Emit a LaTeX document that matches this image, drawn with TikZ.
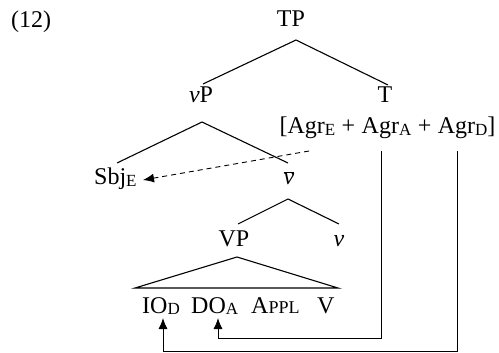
\documentclass[tikz,border=0pt]{standalone}
\usepackage{fontspec}
\setmainfont{Liberation Serif}
\usetikzlibrary{arrows.meta}
\newcommand\subsc[1]{\raisebox{-0.12ex}{\fontsize{17}{17}\selectfont #1}}
\newcommand\smcap[1]{{\fontsize{18}{18}\selectfont #1}}
\begin{document}
\begin{tikzpicture}[x=1pt,y=-1pt,font=\fontsize{24}{28}\selectfont,
  lab/.style={inner sep=0pt,anchor=base},
  br/.style={line width=1.1pt},
  link/.style={line width=0.9pt},
  tip/.style={-{Latex[length=11pt,width=9pt]}},
]
\useasboundingbox (0,0) rectangle (499,353);
% labels
\node[lab,anchor=base west] (ex) at (11,28) {(12)};
\node[lab] (TP) at (291,27) {TP};
\node[lab] (vP) at (201,103) {\textit{v}P};
\node[lab] (T) at (385,103) {T};
\node[lab] (agr) at (387.5,134) {[Agr\subsc{E}\hspace{6.5pt}+\hspace{6.5pt}Agr\subsc{A}\hspace{6.5pt}+\hspace{6.5pt}Agr\subsc{D}]};
\node[lab,anchor=base west] (sbj) at (94,185) {Sbj\subsc{E}};
\node[lab] (vbar) at (289,185) {$\overline{\hbox{\itshape v}}$};
\node[lab] (VP) at (234,247) {VP};
\node[lab] (v) at (339,247) {\textit{v}};
\node[lab,anchor=base west] (IO) at (142,313) {IO\subsc{D}};
\node[lab,anchor=base west] (DO) at (191,313) {DO\subsc{A}};
\node[lab,anchor=base west] (appl) at (251,313) {A\smcap{PPL}};
\node[lab,anchor=base west] (V) at (317,313) {V};
% apex points
\coordinate (tpA) at (296,40);
\coordinate (vpA) at (202,122);
\coordinate (vbA) at (288,199);
\coordinate (vpT) at (237,257);
\coordinate (triL) at (135,288);
\coordinate (triR) at (338,288);
\coordinate (vpL) at (203,84);
\coordinate (tR) at (388,85);
\coordinate (sbjR) at (117,163);
\coordinate (vbT) at (288,163);
\coordinate (VPT) at (238,224);
\coordinate (vT) at (339,224);
% tree branches
\draw[br] (vpL) -- (tpA) -- (tR);
\draw[br] (sbjR) -- (vpA) -- (vbT);
\draw[br] (VPT) -- (vbA) -- (vT);
\draw[br] (triL) -- (vpT) -- (triR) -- cycle;
% agreement links
\coordinate (dashS) at (309,151);
\coordinate (sbjT) at (143,180);
\draw[link,dashed,dash pattern=on 5pt off 4pt,tip] (dashS) -- (sbjT);
\coordinate (aA) at (381,151);
\coordinate (aD) at (457,151);
\coordinate (ioT) at (163,318);
\coordinate (doT) at (218,318);
\draw[link,tip] (aA) |- (218,338) -- (doT);
\draw[link,tip] (aD) |- (163,351) -- (ioT);
\end{tikzpicture}
\end{document}
